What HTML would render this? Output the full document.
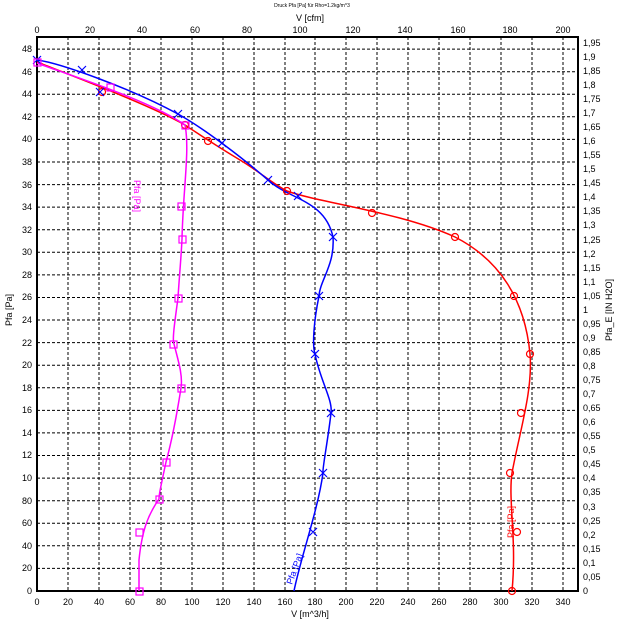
<!DOCTYPE html>
<html><head><meta charset="utf-8"><style>
html,body{margin:0;padding:0;background:#fff}
svg{display:block;font-family:"Liberation Sans",sans-serif}
</style></head><body>
<svg width="624" height="624" viewBox="0 0 624 624" xmlns="http://www.w3.org/2000/svg">
<rect width="624" height="624" fill="#fff"/>
<g stroke="#000" stroke-width="1" stroke-dasharray="3,2">
<line x1="68" y1="37" x2="68" y2="591"/><line x1="99" y1="37" x2="99" y2="591"/><line x1="130" y1="37" x2="130" y2="591"/><line x1="161" y1="37" x2="161" y2="591"/><line x1="192" y1="37" x2="192" y2="591"/><line x1="223" y1="37" x2="223" y2="591"/><line x1="254" y1="37" x2="254" y2="591"/><line x1="285" y1="37" x2="285" y2="591"/><line x1="315" y1="37" x2="315" y2="591"/><line x1="346" y1="37" x2="346" y2="591"/><line x1="377" y1="37" x2="377" y2="591"/><line x1="408" y1="37" x2="408" y2="591"/><line x1="439" y1="37" x2="439" y2="591"/><line x1="470" y1="37" x2="470" y2="591"/><line x1="501" y1="37" x2="501" y2="591"/><line x1="532" y1="37" x2="532" y2="591"/><line x1="563" y1="37" x2="563" y2="591"/>
<line x1="37" y1="568.4" x2="578" y2="568.4"/><line x1="37" y1="545.8" x2="578" y2="545.8"/><line x1="37" y1="523.3" x2="578" y2="523.3"/><line x1="37" y1="500.7" x2="578" y2="500.7"/><line x1="37" y1="478.1" x2="578" y2="478.1"/><line x1="37" y1="455.5" x2="578" y2="455.5"/><line x1="37" y1="432.9" x2="578" y2="432.9"/><line x1="37" y1="410.4" x2="578" y2="410.4"/><line x1="37" y1="387.8" x2="578" y2="387.8"/><line x1="37" y1="365.2" x2="578" y2="365.2"/><line x1="37" y1="342.6" x2="578" y2="342.6"/><line x1="37" y1="320" x2="578" y2="320"/><line x1="37" y1="297.5" x2="578" y2="297.5"/><line x1="37" y1="274.9" x2="578" y2="274.9"/><line x1="37" y1="252.3" x2="578" y2="252.3"/><line x1="37" y1="229.7" x2="578" y2="229.7"/><line x1="37" y1="207.1" x2="578" y2="207.1"/><line x1="37" y1="184.6" x2="578" y2="184.6"/><line x1="37" y1="162" x2="578" y2="162"/><line x1="37" y1="139.4" x2="578" y2="139.4"/><line x1="37" y1="116.8" x2="578" y2="116.8"/><line x1="37" y1="94.2" x2="578" y2="94.2"/><line x1="37" y1="71.7" x2="578" y2="71.7"/><line x1="37" y1="49.1" x2="578" y2="49.1"/>
</g>
<rect x="37" y="37" width="541" height="554" fill="none" stroke="#000" stroke-width="2"/>
<g font-size="9" fill="#000" text-anchor="end">
<text x="32" y="594">0</text><text x="32" y="571">20</text><text x="32" y="549">40</text><text x="32" y="526">60</text><text x="32" y="504">80</text><text x="32" y="481">10</text><text x="32" y="458">12</text><text x="32" y="436">14</text><text x="32" y="413">16</text><text x="32" y="391">18</text><text x="32" y="368">20</text><text x="32" y="346">22</text><text x="32" y="323">24</text><text x="32" y="300">26</text><text x="32" y="278">28</text><text x="32" y="255">30</text><text x="32" y="233">32</text><text x="32" y="210">34</text><text x="32" y="188">36</text><text x="32" y="165">38</text><text x="32" y="142">40</text><text x="32" y="120">42</text><text x="32" y="97">44</text><text x="32" y="75">46</text><text x="32" y="52">48</text>
</g>
<g font-size="9" fill="#000" text-anchor="start">
<text x="583" y="594">0</text><text x="583" y="580">0,05</text><text x="583" y="566">0,1</text><text x="583" y="552">0,15</text><text x="583" y="538">0,2</text><text x="583" y="524">0,25</text><text x="583" y="510">0,3</text><text x="583" y="495">0,35</text><text x="583" y="481">0,4</text><text x="583" y="467">0,45</text><text x="583" y="453">0,5</text><text x="583" y="439">0,55</text><text x="583" y="425">0,6</text><text x="583" y="411">0,65</text><text x="583" y="397">0,7</text><text x="583" y="383">0,75</text><text x="583" y="369">0,8</text><text x="583" y="355">0,85</text><text x="583" y="341">0,9</text><text x="583" y="327">0,95</text><text x="583" y="313">1</text><text x="583" y="299">1,05</text><text x="583" y="285">1,1</text><text x="583" y="271">1,15</text><text x="583" y="257">1,2</text><text x="583" y="243">1,25</text><text x="583" y="228">1,3</text><text x="583" y="214">1,35</text><text x="583" y="200">1,4</text><text x="583" y="186">1,45</text><text x="583" y="172">1,5</text><text x="583" y="158">1,55</text><text x="583" y="144">1,6</text><text x="583" y="130">1,65</text><text x="583" y="116">1,7</text><text x="583" y="102">1,75</text><text x="583" y="88">1,8</text><text x="583" y="74">1,85</text><text x="583" y="60">1,9</text><text x="583" y="46">1,95</text>
</g>
<g font-size="9" fill="#000" text-anchor="middle">
<text x="37" y="605">0</text><text x="68" y="605">20</text><text x="99" y="605">40</text><text x="130" y="605">60</text><text x="161" y="605">80</text><text x="192" y="605">100</text><text x="223" y="605">120</text><text x="254" y="605">140</text><text x="285" y="605">160</text><text x="315" y="605">180</text><text x="346" y="605">200</text><text x="377" y="605">220</text><text x="408" y="605">240</text><text x="439" y="605">260</text><text x="470" y="605">280</text><text x="501" y="605">300</text><text x="532" y="605">320</text><text x="563" y="605">340</text>
<text x="37" y="33">0</text><text x="90" y="33">20</text><text x="142" y="33">40</text><text x="195" y="33">60</text><text x="247" y="33">80</text><text x="300" y="33">100</text><text x="353" y="33">120</text><text x="405" y="33">140</text><text x="458" y="33">160</text><text x="510" y="33">180</text><text x="563" y="33">200</text>
<text x="310" y="21">V  [cfm]</text>
<text x="310" y="617">V  [m^3/h]</text>
<text x="312" y="7" font-size="5">Druck Pfa [Pa] für Rho=1.2kg/m^3</text>
<text transform="translate(12,310) rotate(-90)">Pfa [Pa]</text>
<text transform="translate(612,310) rotate(-90)">Pfa_E [IN H2O]</text>
</g>
<g fill="none" stroke-width="1.5">
<path stroke="#f00" d="M37,62 C70,75 150,105 185,125 C200,135 215,145 240,160 C260,172 270,182 287,191 C320,203 400,212 455,237 C500,260 525,300 530,354 C533,390 520,430 512,473 C508,500 517,540 512,591"/>
<path stroke="#00f" d="M37,60 C60,63 130,88 178,114 C205,129 245,160 268,180 C290,200 325,200 333,237 C335,265 320,280 319,296 C314,320 312,345 315,354 C320,380 333,400 331,413 C328,440 322,470 323,473 C318,510 300,560 294,591"/>
<path stroke="#f0f" d="M37,63 C60,72 150,100 185,125 C190,150 183,190 182,239 C181,260 179,280 178,298 C175,320 172,340 174,344 C178,360 183,375 181,388 C176,420 172,440 166,462 C160,490 159,495 159,499 C148,515 142,530 139,560 L139,591"/>
</g>
<g fill="none" stroke="#f00" stroke-width="1.2">
<circle cx="185" cy="125" r="3.5"/><circle cx="208" cy="141" r="3.5"/><circle cx="287" cy="191" r="3.5"/><circle cx="372" cy="213" r="3.5"/><circle cx="455" cy="237" r="3.5"/><circle cx="514" cy="296" r="3.5"/><circle cx="530" cy="354" r="3.5"/><circle cx="521" cy="413" r="3.5"/><circle cx="510" cy="473" r="3.5"/><circle cx="517" cy="532" r="3.5"/><circle cx="512" cy="591" r="3.5"/><circle cx="102" cy="92" r="3.5"/>
</g>
<g stroke="#00f" stroke-width="1.2">
<path d="M78,66l8,8M86,66l-8,8 M96,88l8,8M104,88l-8,8 M174,110l8,8M182,110l-8,8 M218,139l8,8M226,139l-8,8 M264,176l8,8M272,176l-8,8 M294,192l8,8M302,192l-8,8 M329,233l8,8M337,233l-8,8 M315,292l8,8M323,292l-8,8 M311,350l8,8M319,350l-8,8 M327,409l8,8M335,409l-8,8 M319,469l8,8M327,469l-8,8 M309,528l8,8M317,528l-8,8 M33,56l8,8M41,56l-8,8"/>
</g>
<g fill="none" stroke="#f0f" stroke-width="1.2">
<rect x="34" y="59" width="7" height="7"/><rect x="107" y="84" width="7" height="7"/><rect x="182" y="122" width="7" height="7"/><rect x="178" y="203" width="7" height="7"/><rect x="179" y="236" width="7" height="7"/><rect x="175" y="295" width="7" height="7"/><rect x="170" y="341" width="7" height="7"/><rect x="178" y="385" width="7" height="7"/><rect x="163" y="459" width="7" height="7"/><rect x="156" y="496" width="7" height="7"/><rect x="136" y="529" width="7" height="7"/><rect x="136" y="588" width="7" height="7"/>
</g>
<g font-size="9">
<text fill="#f0f" transform="translate(134,180) rotate(90)">Pfa [Pa]</text>
<text fill="#00f" transform="translate(292,585) rotate(-70)">Pfa [Pa]</text>
<text fill="#f00" transform="translate(514,538) rotate(-90)">Pfa [Pa]</text>
</g>
</svg>
</body></html>
